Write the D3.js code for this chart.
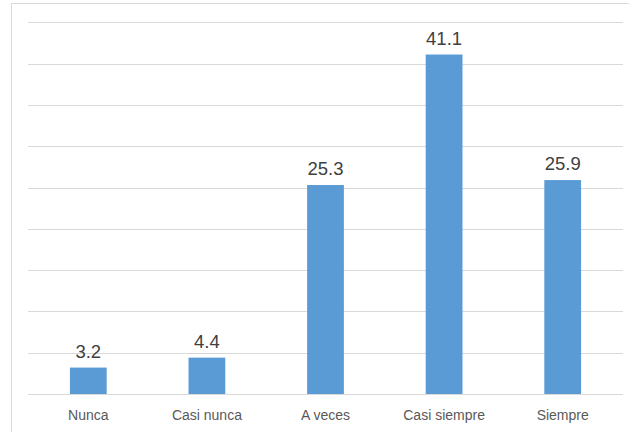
<!DOCTYPE html>
<html>
<head>
<meta charset="utf-8">
<script src="https://cdn.jsdelivr.net/npm/d3@7"></script>
<style>
  html, body { margin: 0; padding: 0; background: #fff; }
  svg { display: block; }
</style>
</head>
<body>
<svg id="chart" width="629" height="432"></svg>
<script>
// Frequency of responses (%)
const categories = ["Nunca", "Casi nunca", "A veces", "Casi siempre", "Siempre"];
const values = [3.2, 4.4, 25.3, 41.1, 25.9];
const yTicks = [0, 5, 10, 15, 20, 25, 30, 35, 40, 45];

const svg = d3.select("#chart");
const W = 629, H = 432;

// chart area outline (runs off the right and bottom edges)
svg.append("rect")
  .attr("x", 11.5).attr("y", 3.5)
  .attr("width", 700).attr("height", 500)
  .attr("fill", "#fff")
  .attr("stroke", "#d9d9d9").attr("stroke-width", 1);

const plot = { left: 28, right: 623, top: 22.3, bottom: 394 };

const x = d3.scaleBand()
  .domain(categories)
  .range([29, 622])
  .paddingInner(0.69)
  .paddingOuter(0.345);

const y = d3.scaleLinear()
  .domain([0, 45])
  .range([plot.bottom, plot.top]);

// horizontal gridlines
svg.append("g")
  .selectAll("line")
  .data(yTicks)
  .join("line")
  .attr("x1", plot.left).attr("x2", plot.right)
  .attr("y1", d => Math.round(y(d)) + 0.5)
  .attr("y2", d => Math.round(y(d)) + 0.5)
  .attr("stroke", "#d9d9d9").attr("stroke-width", 1);

// bars
svg.append("g")
  .selectAll("rect")
  .data(values)
  .join("rect")
  .attr("x", (d, i) => x(categories[i]))
  .attr("width", x.bandwidth())
  .attr("y", d => y(d))
  .attr("height", d => y(0) - y(d))
  .attr("fill", "#5b9bd5");

// value labels
svg.append("g")
  .selectAll("text")
  .data(values)
  .join("text")
  .attr("x", (d, i) => x(categories[i]) + x.bandwidth() / 2)
  .attr("y", d => y(d) - 10)
  .attr("text-anchor", "middle")
  .attr("font-family", "Liberation Sans, Arial, sans-serif")
  .attr("font-size", 18.5)
  .attr("fill", "#404040")
  .text(d => d.toFixed(1));

// category axis
const xAxis = svg.append("g")
  .attr("transform", `translate(0,${plot.bottom})`)
  .call(d3.axisBottom(x).tickSize(0).tickPadding(0));
xAxis.select(".domain").remove();
xAxis.selectAll("text")
  .attr("dy", null)
  .attr("y", 26)
  .attr("font-family", "Liberation Sans, Arial, sans-serif")
  .attr("font-size", 14)
  .attr("fill", "#595959");
</script>
</body>
</html>
